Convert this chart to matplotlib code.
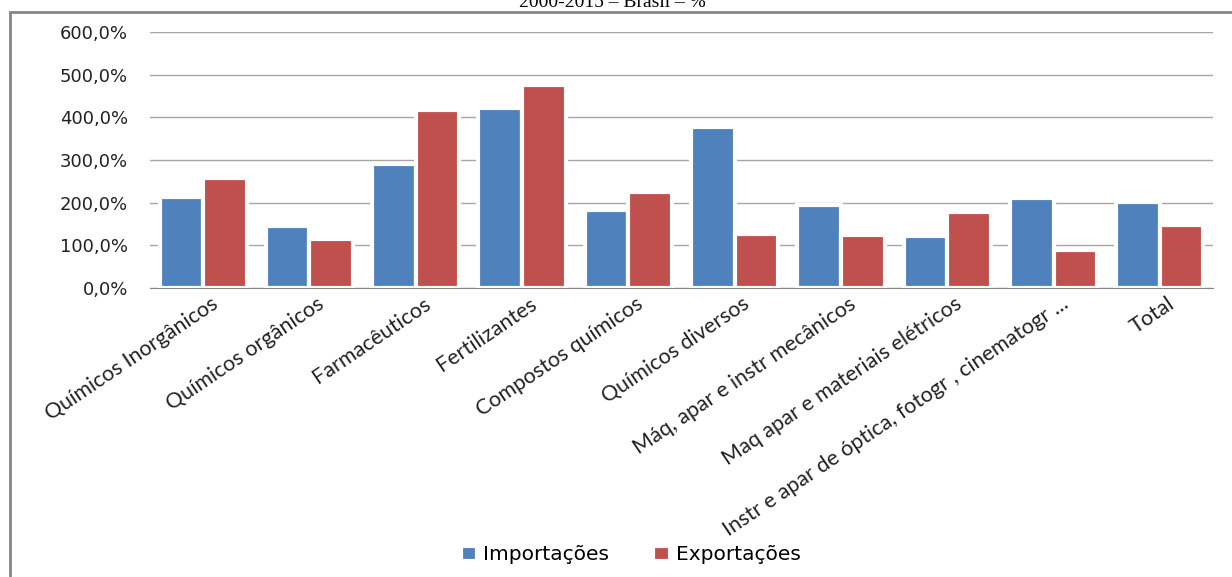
import numpy as np
import matplotlib
matplotlib.use("Agg")
import matplotlib.pyplot as plt
from matplotlib.patches import Rectangle
from matplotlib.ticker import FuncFormatter

categorias = ['Químicos Inorgânicos', 'Químicos orgânicos', 'Farmacêuticos',
              'Fertilizantes', 'Compostos químicos', 'Químicos diversos',
              'Máq, apar e instr mecânicos', 'Maq apar e materiais elétricos',
              'Instr e apar de óptica, fotogr , cinematogr ...', 'Total']
importacoes = [213, 145, 290, 422, 183, 377, 195, 122, 211, 201]
exportacoes = [258, 115, 417, 476, 225, 127, 124, 178, 89, 148]
y_ticks = [0, 100, 200, 300, 400, 500, 600]

azul = '#4f81bd'
vermelho = '#c0504d'

fig = plt.figure(figsize=(12.32, 5.77), dpi=100)
ax = fig.add_axes([150 / 1232, 1 - 288 / 577, (1213 - 150) / 1232, (288 - 32) / 577])

# moldura externa do grafico
fig.patches.append(Rectangle((10 / 1232, -0.05), 1.1, 1.05 - 12 / 577,
                             transform=fig.transFigure, fill=False,
                             edgecolor='#868686', linewidth=2))

x = np.arange(len(categorias))
w = 0.41
ax.bar(x - w / 2, importacoes, w, color=azul, edgecolor='white', linewidth=3,
       label='Importações', zorder=3)
ax.bar(x + w / 2, exportacoes, w, color=vermelho, edgecolor='white', linewidth=3,
       label='Exportações', zorder=3)

ax.set_xlim(-0.5, len(categorias) - 0.5)
ax.set_ylim(0, 600)
ax.set_yticks(y_ticks)
ax.yaxis.set_major_formatter(FuncFormatter(lambda v, p: '{:.1f}%'.format(v).replace('.', ',')))
ax.grid(axis='y', color='#a6a6a6', linewidth=1, zorder=0)
for s in ['left', 'right', 'top']:
    ax.spines[s].set_visible(False)
ax.spines['bottom'].set_color('#868686')
ax.tick_params(axis='y', length=0, pad=16, labelsize=13, labelcolor='#222222')
ax.tick_params(axis='x', length=0, pad=4)
ax.set_xticks(x + 0.07)
ax.set_xticklabels(categorias, rotation=34, ha='right', rotation_mode='anchor',
                   fontsize=15.5, family='Lato', color='#222222')

fig.text(0.497, 1 - 7 / 577, '2000-2015 – Brasil – %', ha='center', va='baseline',
         family='Liberation Serif', fontsize=14)

fig.legend(loc='center', bbox_to_anchor=(0.512, 1 - 555 / 577), ncol=2, frameon=False,
           fontsize=14.5, handlelength=0.8, handleheight=0.8, handletextpad=0.3,
           columnspacing=2.2)

plt.savefig('out.png', dpi=100)
